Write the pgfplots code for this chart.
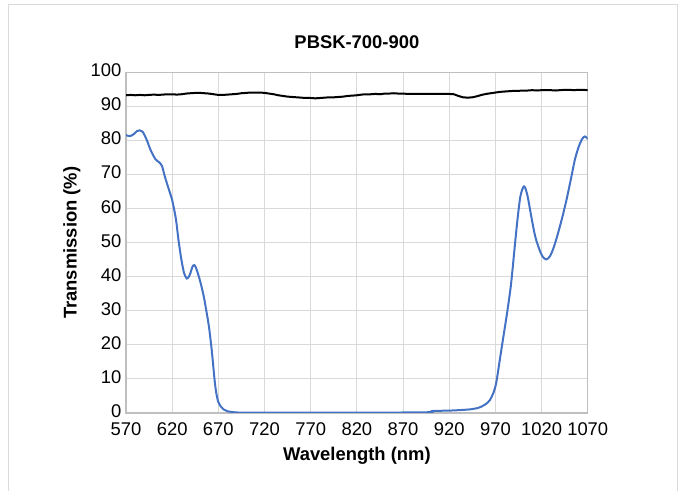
\documentclass[border=0pt]{standalone}
\usepackage{pgfplots}
\pgfplotsset{compat=1.18}
\usepackage{fontspec}
\setmainfont{Liberation Sans}
\definecolor{xblue}{HTML}{4472C4}
\definecolor{gridgray}{HTML}{D9D9D9}
\definecolor{axgray}{HTML}{BFBFBF}
\begin{document}
\begin{tikzpicture}
\useasboundingbox (0pt,0pt) rectangle (510.75pt,368.25pt);
\draw[gridgray, line width=0.75pt] (6pt,-2pt) rectangle (507.75pt,364.5pt);
\begin{axis}[
    at={(94.5pt,58.5pt)}, anchor=south west,
    scale only axis, width=346.3pt, height=255.4pt,
    xmin=570, xmax=1070, ymin=0, ymax=100,
    xtick={570,620,...,1070}, ytick={0,10,...,100},
    grid=major,
    major grid style={gridgray, line width=0.75pt},
    axis line style={axgray, line width=1pt},
    tick style={draw=none},
    /pgf/number format/1000 sep={},
    /pgf/number format/assume math mode=true,
    ticklabel style={font=\fontsize{13.8}{16}\selectfont},
    xticklabel style={yshift=-4pt},
    yticklabel style={yshift=1.5pt},
    title={PBSK-700-900},
    title style={font=\bfseries\fontsize{13.8}{16}\selectfont, at={(axis description cs:0.5,1.066)}, anchor=center},
    xlabel={Wavelength (nm)},
    ylabel={Transmission (\%)},
    xlabel style={font=\bfseries\fontsize{13.8}{16}\selectfont, at={(axis description cs:0.5,-0.126)}, anchor=center},
    ylabel style={font=\bfseries\fontsize{13.8}{16}\selectfont, at={(axis description cs:-0.117,0.5)}, anchor=center},
]
\addplot[black, line width=1.5pt] coordinates {
(570,93.3) (575,93.4) (580,93.3) (585,93.4) (590,93.3) (595,93.4) (600,93.5)
(605,93.4) (610,93.5) (615,93.6) (620,93.6) (625,93.5) (630,93.6) (635,93.8)
(640,93.9) (645,94.0) (650,94.0) (655,93.9) (660,93.8) (665,93.6) (670,93.4)
(675,93.4) (680,93.5) (685,93.6) (690,93.7) (695,93.9) (700,94.0) (705,94.1)
(710,94.1) (715,94.1) (720,94.0) (725,93.8) (730,93.6) (735,93.3) (740,93.1)
(745,92.9) (750,92.8) (755,92.7) (760,92.6) (765,92.5) (770,92.5) (775,92.4)
(780,92.5) (785,92.6) (790,92.7) (795,92.7) (800,92.8) (805,92.9) (810,93.1)
(815,93.2) (820,93.3) (825,93.5) (830,93.6) (835,93.6) (840,93.7) (845,93.6)
(850,93.8) (855,93.8) (860,93.9) (865,93.8) (870,93.8) (875,93.7) (880,93.7)
(890,93.7) (900,93.7) (910,93.7) (920,93.7) (925,93.6) (930,93.1) (935,92.7)
(940,92.6) (945,92.7) (950,93.0) (955,93.4) (960,93.7) (965,93.9) (970,94.1)
(975,94.3) (980,94.4) (985,94.5) (990,94.6) (995,94.6) (1000,94.7) (1005,94.7)
(1010,94.8) (1015,94.7) (1020,94.8) (1025,94.8) (1030,94.8) (1035,94.7)
(1040,94.8) (1045,94.9) (1050,94.9) (1055,94.8) (1060,94.9) (1065,94.9) (1070,94.8)
};
\addplot[xblue, line width=1.5pt, smooth] coordinates {
(570,81.6) (574,81.3) (578,81.8) (582,82.8) (585,83.0) (588,82.6) (592,80.5)
(597,77.0) (602,74.5) (606,73.6) (609,72.5) (612,69.5) (616,66) (620,62.5)
(624,57) (627,50.5) (630,45) (633,41) (636,39.5) (639,40.5) (642,43) (644,43.4)
(646,42.5) (650,39) (654,34.5) (657,30) (660,25) (663,18) (666,9.5) (668,5.5)
(670,3.2) (673,1.8) (676,1.0) (680,0.5) (688,0.2) (700,0.1) (750,0.1)
(800,0.1) (850,0.1) (870,0.15) (900,0.25) (902,0.6) (920,0.7) (940,1.0)
(950,1.4) (955,1.9) (960,2.7) (964,3.8) (968,6) (971,9) (975,16) (979,23)
(983,30) (987,38) (991,49) (994,57) (997,63.5) (1000,66.2) (1002,66.3)
(1005,63.5) (1009,57.5) (1013,52) (1017,48.5) (1021,46) (1025,45.1) (1029,46)
(1033,48.5) (1037,52) (1042,57) (1047,62.6) (1052,69) (1056,74.3) (1060,78)
(1064,80.5) (1067,81.2) (1070,80.5)
};
\end{axis}
\end{tikzpicture}
\end{document}
